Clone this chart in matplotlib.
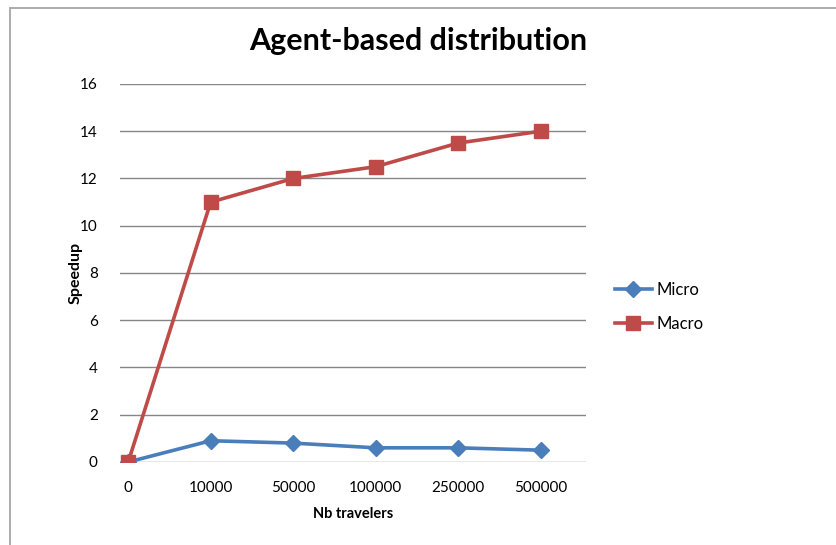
import matplotlib.pyplot as plt
from matplotlib.patches import Rectangle

# data
travelers = ['0', '10000', '50000', '100000', '250000', '500000']
micro = [0, 0.9, 0.8, 0.6, 0.6, 0.5]
macro = [0, 11, 12, 12.5, 13.5, 14]

plt.rcParams['font.family'] = ['Lato', 'DejaVu Sans']

fig = plt.figure(figsize=(8.36, 5.45), dpi=100)
ax = fig.add_axes([0.1435, 0.1523, 0.5575, 0.6936])

x = list(range(len(travelers)))
ax.plot(x, micro, color='#4A7EBB', linewidth=2.6, marker='D', markersize=8,
        label='Micro', zorder=3)
ax.plot(x, macro, color='#BE4B48', linewidth=2.6, marker='s', markersize=10.5,
        label='Macro', zorder=3)

ax.set_ylim(0, 16)
ax.set_yticks(range(0, 17, 2))
ax.set_xlim(-0.1, 5.55)
ax.set_xticks(x)
ax.set_xticklabels(travelers)

ax.grid(axis='y', color='#868686', linewidth=1)
ax.set_axisbelow(True)
for s in ax.spines.values():
    s.set_visible(False)
ax.tick_params(length=0, labelsize=11, colors='black')
ax.tick_params(axis='y', pad=16)
ax.tick_params(axis='x', pad=14)

ax.set_xlabel('Nb travelers', fontsize=10.5, fontweight='bold', labelpad=8)
ax.set_ylabel('Speedup', fontsize=11.5, fontweight='bold', labelpad=-2)
fig.text(0.5, 0.925, 'Agent-based distribution', ha='center', va='center',
         fontsize=22, fontweight='bold')

ax.legend(loc='center left', bbox_to_anchor=(1.03, 0.41), frameon=False,
          fontsize=12, handlelength=2.2, labelspacing=1.05, handletextpad=0.3)

# chart frame
fig.patches.append(Rectangle((10 / 836, -0.1), 2, (537 / 545) + 0.1,
                             transform=fig.transFigure, fill=False,
                             edgecolor='#A6A6A6', linewidth=1.3))

plt.savefig('out.png', dpi=100)
